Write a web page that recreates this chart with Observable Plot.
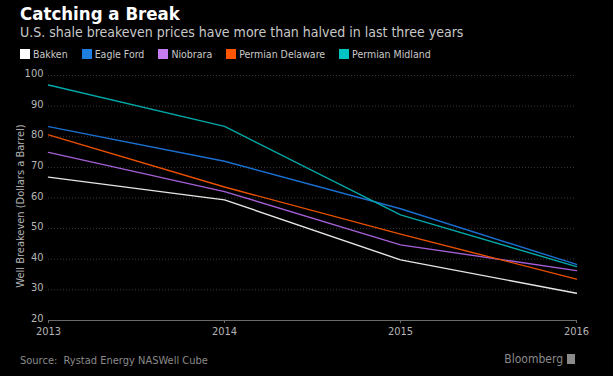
<!DOCTYPE html>
<html>
<head>
<meta charset="utf-8">
<script src="https://cdn.jsdelivr.net/npm/d3@7"></script>
<script src="https://cdn.jsdelivr.net/npm/@observablehq/plot@0.6"></script>
<style>
  html, body { margin: 0; padding: 0; background: #000; }
  body { width: 613px; height: 376px; position: relative; overflow: hidden; font-family: "DejaVu Sans Condensed", "DejaVu Sans", sans-serif; font-stretch: condensed; }
  #title { position: absolute; left: 20px; top: 3px; color: #fff; font-size: 18.5px; font-weight: bold; }
  #subtitle { position: absolute; left: 20px; top: 24px; color: #c8c8c8; font-size: 14px; }
  #legend { position: absolute; left: 20px; top: 48px; color: #c8c8c8; font-size: 10.5px; display: flex; }
  .item { display: flex; align-items: center; margin-right: 14px; }
  .sw { width: 10px; height: 10px; margin-right: 3px; display: inline-block; }
  #chart { position: absolute; left: 0; top: 65px; }
  #source { position: absolute; left: 20px; top: 354px; color: #8a8a8a; font-size: 11px; }
  #brand { position: absolute; right: 38px; top: 352px; color: #8a8a8a; font-size: 12px; display: flex; align-items: center; }
  #brand .logo { width: 8px; height: 10px; background: #8a8a8a; margin-left: 4px; display: inline-block; }
</style>
</head>
<body>
<div id="title">Catching a Break</div>
<div id="subtitle">U.S. shale breakeven prices have more than halved in last three years</div>
<div id="legend"></div>
<div id="chart"></div>
<div id="source">Source:&nbsp; Rystad Energy NASWell Cube</div>
<div id="brand">Bloomberg<span class="logo"></span></div>
<script>
const years = [2013, 2014, 2015, 2016];
const seriesNames = ["Bakken", "Eagle Ford", "Niobrara", "Permian Delaware", "Permian Midland"];
const seriesColors = ["#ffffff", "#1f7fe0", "#c47cf0", "#ff5500", "#00c4c4"];
const lineColors = ["#e6e6e6", "#1a6fd0", "#a55fd6", "#e85000", "#00a8a8"];
const bakken = [66.8, 59.4, 39.8, 28.9];
const eagleFord = [83.3, 72.0, 56.5, 38.3];
const niobrara = [74.9, 62.1, 44.7, 36.3];
const permianDelaware = [80.6, 63.6, 48.2, 33.5];
const permianMidland = [96.9, 83.4, 54.5, 37.6];
const yTicks = [20, 30, 40, 50, 60, 70, 80, 90, 100];

const allValues = [bakken, eagleFord, niobrara, permianDelaware, permianMidland];
const data = [];
seriesNames.forEach((name, i) => {
  years.forEach((y, j) => data.push({series: name, year: y, value: allValues[i][j]}));
});

const legend = document.getElementById("legend");
seriesNames.forEach((n, i) => {
  const d = document.createElement("div");
  d.className = "item";
  d.innerHTML = `<span class="sw" style="background:${seriesColors[i]}"></span>${n}`;
  legend.appendChild(d);
});

const chart = Plot.plot({
  width: 613,
  height: 282,
  marginLeft: 48,
  marginRight: 37,
  marginTop: 10,
  marginBottom: 27,
  style: {background: "#000", color: "#b4b4b4", fontSize: "11px", fontFamily: "'DejaVu Sans Condensed', 'DejaVu Sans', sans-serif"},
  x: {domain: [2013, 2016], label: null},
  y: {domain: [20, 100], label: null},
  color: {domain: seriesNames, range: lineColors},
  marks: [
    Plot.gridY(yTicks.slice(1), {stroke: "#3a3a3a", strokeOpacity: 1, strokeDasharray: "1,2"}),
    Plot.ruleY([20], {stroke: "#6a6a6a"}),
    Plot.axisX({ticks: years, tickFormat: d => String(d), tickSize: 3, tickPadding: 4, stroke: "#6a6a6a", fill: "#b4b4b4", label: null}),
    Plot.axisY({ticks: yTicks, tickSize: 0, tickPadding: 5, dy: -2, fill: "#b4b4b4", label: null}),
    Plot.text(["Well Breakeven (Dollars a Barrel)"], {frameAnchor: "left", textAnchor: "middle", dx: -28, dy: 8, rotate: -90, fill: "#b4b4b4", fontSize: 11}),
    Plot.line(data, {x: "year", y: "value", z: "series", stroke: "series", strokeWidth: 1.4})
  ]
});
document.getElementById("chart").appendChild(chart);
</script>
</body>
</html>
